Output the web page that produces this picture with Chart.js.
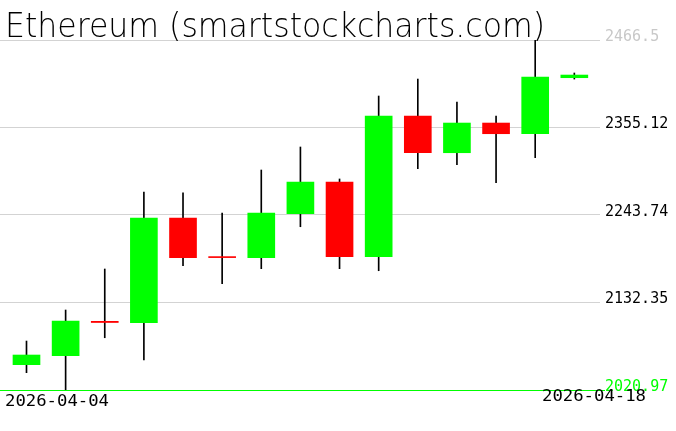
<!DOCTYPE html>
<html>
<head>
<meta charset="utf-8">
<script src="https://cdn.jsdelivr.net/npm/chart.js@4/dist/chart.umd.min.js"></script>
<style>
  html, body { margin: 0; padding: 0; background: #fff; }
  #wrap { width: 676px; height: 431px; }
</style>
</head>
<body>
<div id="wrap"><canvas id="c" width="676" height="431"></canvas></div>
<script>
// ---- data ----
const titleText = 'Ethereum (smartstockcharts.com)';
const dates = ['2026-04-04','2026-04-05','2026-04-06','2026-04-07','2026-04-08','2026-04-09','2026-04-10',
               '2026-04-11','2026-04-12','2026-04-13','2026-04-14','2026-04-15','2026-04-16','2026-04-17','2026-04-18'];
const openV  = [2053.2, 2064.6, 2108.4, 2106.6, 2239.9, 2190.3, 2189.4, 2245.4, 2285.7, 2190.7, 2369.7, 2323.0, 2360.8, 2347.2, 2418.5];
const highV  = [2083.3, 2122.8, 2175.0, 2273.0, 2272.1, 2246.3, 2301.0, 2330.3, 2289.6, 2395.2, 2416.8, 2387.6, 2369.7, 2466.5, 2424.5];
const lowV   = [2043.0, 2020.97, 2087.5, 2059.2, 2179.2, 2156.3, 2175.4, 2228.8, 2175.4, 2172.8, 2302.7, 2307.8, 2284.8, 2316.7, 2416.8];
const closeV = [2065.5, 2108.8, 2106.9, 2239.9, 2189.4, 2189.5, 2246.3, 2285.7, 2190.7, 2369.7, 2323.0, 2360.8, 2347.2, 2419.4, 2421.9];
const yTickValues = [2020.97, 2132.35, 2243.74, 2355.12, 2466.5];
const yTickLabels = ['2020.97', '2132.35', '2243.74', '2355.12', '2466.5'];
const xLabels = ['2026-04-04', '2026-04-18'];

// ---- build datasets ----
const UP = '#00ff00', DOWN = '#ff0000';
const wickData = dates.map((d, i) => ({ x: i, y: [lowV[i], highV[i]] }));
const bodyData = dates.map((d, i) => ({ x: i, y: [openV[i], closeV[i]] }));
const bodyColors = dates.map((d, i) => closeV[i] >= openV[i] ? UP : DOWN);

function drawFit(ctx, text, x, y, font, targetW, color, align) {
  ctx.save();
  ctx.font = font;
  ctx.fillStyle = color;
  ctx.textBaseline = 'alphabetic';
  ctx.textAlign = 'left';
  const w = ctx.measureText(text).width;
  const s = targetW / w;
  const x0 = align === 'right' ? x - targetW : x;
  ctx.translate(x0, y);
  ctx.scale(s, 1);
  ctx.fillText(text, 0, 0);
  ctx.restore();
}

const overlay = {
  id: 'overlay',
  afterDraw(chart) {
    const ctx = chart.ctx;
    drawFit(ctx, titleText, 5, 37, '200 33px "DejaVu Sans"', 540, '#000', 'left');
    drawFit(ctx, xLabels[0], 5, 406, '16px "DejaVu Sans Mono"', 104, '#000', 'left');
    drawFit(ctx, xLabels[1], 646, 401, '16px "DejaVu Sans Mono"', 104, '#000', 'right');
  }
};

new Chart(document.getElementById('c'), {
  type: 'bar',
  data: {
    datasets: [
      {
        label: 'wick', data: wickData, backgroundColor: '#000', barThickness: 1,
        grouped: false, order: 2, borderWidth: 0
      },
      {
        label: 'body', data: bodyData, backgroundColor: bodyColors, barThickness: 27,
        grouped: false, order: 1, borderWidth: 0, minBarLength: 1
      }
    ]
  },
  options: {
    responsive: false,
    animation: false,
    devicePixelRatio: 1,
    layout: { padding: { top: 40, bottom: 41, left: 0, right: 0 } },
    plugins: { legend: { display: false }, tooltip: { enabled: false } },
    scales: {
      x: {
        type: 'linear', min: -0.677, max: 14.656, offset: false, display: false
      },
      y: {
        position: 'right',
        min: 2020.97, max: 2466.5,
        afterBuildTicks: (scale) => { scale.ticks = yTickValues.map(v => ({ value: v })); },
        afterFit: (scale) => { scale.width = 76; },
        border: { display: false },
        grid: {
          color: (c) => c.index === 0 ? '#00ff00' : '#d3d3d3',
          tickColor: (c) => c.index === 0 ? '#00ff00' : 'rgba(0,0,0,0)',
          tickLength: 5,
          lineWidth: 1
        },
        ticks: {
          padding: 0,
          labelOffset: -3,
          font: { family: '"DejaVu Sans Mono"', size: 15 },
          color: (c) => c.index === 0 ? '#00ff00' : (c.index === yTickValues.length - 1 ? '#c8c8c8' : '#000'),
          callback: (v, i) => yTickLabels[i]
        }
      }
    }
  },
  plugins: [overlay]
});
</script>
</body>
</html>
